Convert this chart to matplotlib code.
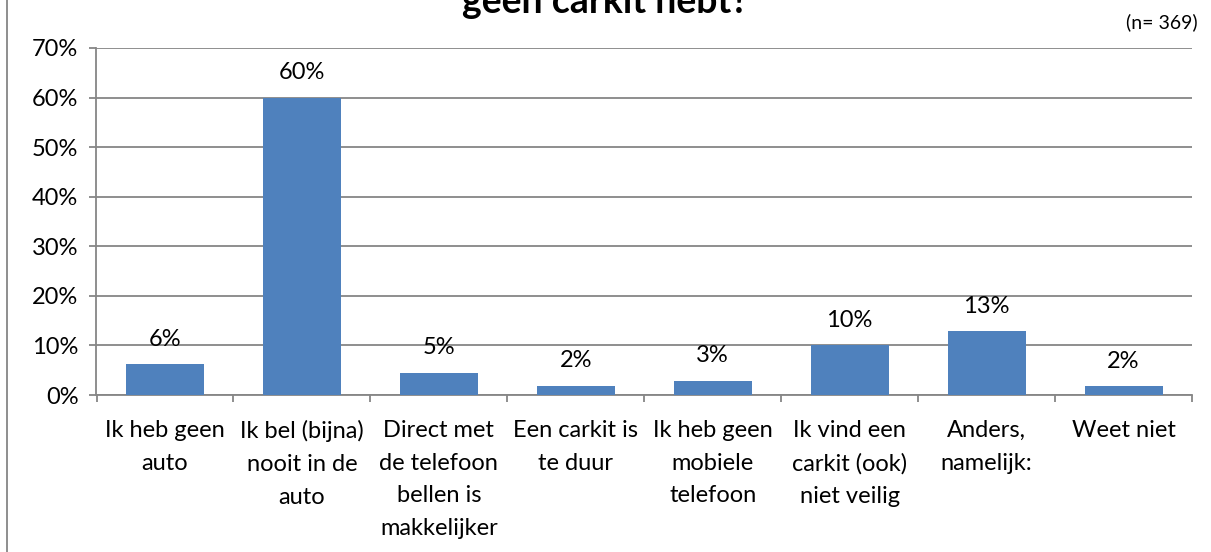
"""Bar chart: reasons for not having a car kit (survey, n = 369)."""

import matplotlib

matplotlib.use("Agg")
import matplotlib.pyplot as plt
from matplotlib.lines import Line2D
from matplotlib.ticker import FuncFormatter, MultipleLocator

CATEGORIES = [
    "Ik heb geen\nauto",
    "Ik bel (bijna)\nnooit in de\nauto",
    "Direct met\nde telefoon\nbellen is\nmakkelijker",
    "Een carkit is\nte duur",
    "Ik heb geen\nmobiele\ntelefoon",
    "Ik vind een\ncarkit (ook)\nniet veilig",
    "Anders,\nnamelijk:",
    "Weet niet",
]
VALUES = [6.2, 60.0, 4.5, 1.9, 2.9, 10.1, 12.9, 1.8]
LABELS = ["6%", "60%", "5%", "2%", "3%", "10%", "13%", "2%"]

BAR_COLOR = "#4f81bd"
GRID_COLOR = "#868686"

plt.rcParams["font.family"] = ["Lato", "DejaVu Sans"]

fig = plt.figure(figsize=(12.11, 5.52), dpi=100)
ax = fig.add_axes([96.5 / 1211, 1 - 395 / 552, (1192 - 96.5) / 1211, (395 - 48) / 552])

positions = range(len(CATEGORIES))
ax.bar(positions, VALUES, width=0.57, color=BAR_COLOR, zorder=3)
for x, v, lab in zip(positions, VALUES, LABELS):
    ax.text(x, v + 2.9, lab, ha="center", va="bottom", fontsize=17)

ax.set_xlim(-0.5, len(CATEGORIES) - 0.5)
ax.set_ylim(0, 70)
ax.yaxis.set_major_locator(MultipleLocator(10))
ax.yaxis.set_major_formatter(FuncFormatter(lambda v, _: f"{v:.0f}%"))
ax.grid(axis="y", color=GRID_COLOR, linewidth=1.3, zorder=0)

# category boundaries carry the tick marks, category centres carry the labels
ax.set_xticks([p + 0.5 for p in range(-1, len(CATEGORIES))], minor=False)
ax.set_xticklabels([])
ax.set_xticks(list(positions), minor=True)
ax.set_xticklabels(CATEGORIES, minor=True, fontsize=17, linespacing=1.69)
ax.tick_params(axis="x", which="major", length=5, width=1.3, color=GRID_COLOR)
ax.tick_params(axis="x", which="minor", length=0, pad=18)
ax.tick_params(axis="y", length=5, width=1.3, color=GRID_COLOR, labelsize=17, pad=8)

for side in ("top", "right"):
    ax.spines[side].set_visible(False)
for side in ("left", "bottom"):
    ax.spines[side].set_color(GRID_COLOR)
    ax.spines[side].set_linewidth(1.3)

fig.text(0.5, 1 - 13 / 552, "geen carkit hebt?", ha="center", va="baseline",
         fontsize=27, fontweight="bold")
fig.text(1198 / 1211, 1 - 22 / 552, "(n= 369)", ha="right", va="center", fontsize=14)
fig.add_artist(Line2D([7 / 1211, 7 / 1211], [0, 1], transform=fig.transFigure,
                      color=GRID_COLOR, linewidth=1.3))

fig.savefig("out.png", dpi=100)
